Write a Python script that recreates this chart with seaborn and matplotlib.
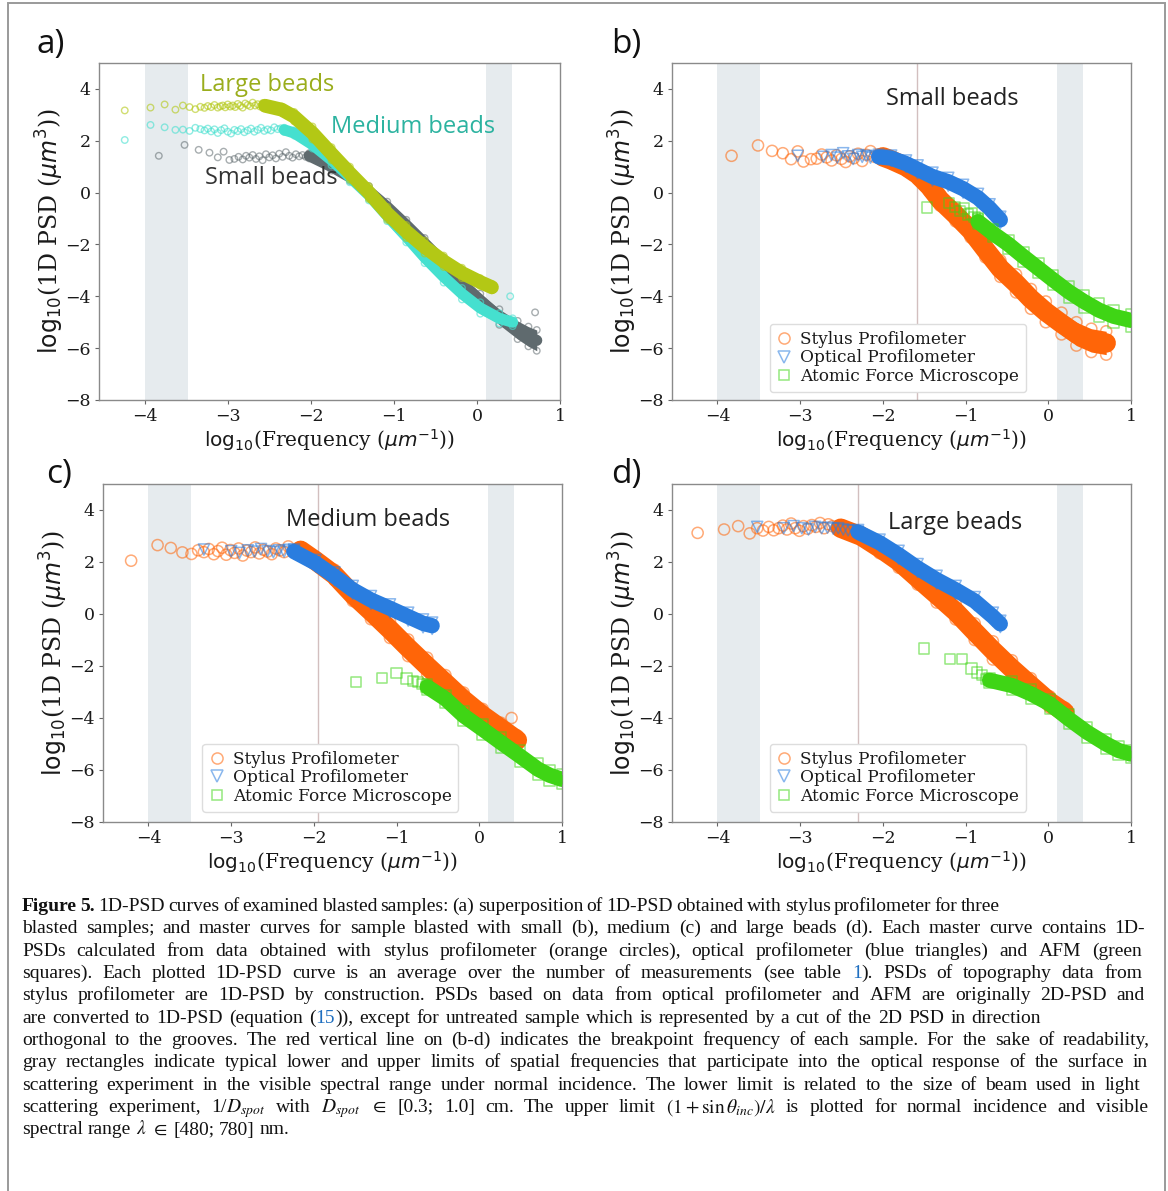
import numpy as np
import matplotlib
matplotlib.use("Agg")
import matplotlib.pyplot as plt
import seaborn as sns
from matplotlib.patches import Rectangle
from matplotlib.lines import Line2D
from matplotlib.transforms import IdentityTransform

# ---------------------------------------------------------------- data
XTICKS = [-4, -3, -2, -1, 0, 1]
YTICKS = [-8, -6, -4, -2, 0, 2, 4]
SPOT_LIMITS = [-4.0, -3.48]      # log10(1/D_spot)
LAMBDA_LIMITS = [0.11, 0.42]     # log10((1+sin)/lambda)
BREAKPOINTS = {"b": -1.59, "c": -1.95, "d": -2.30}
LEGEND_LABELS = ["Stylus Profilometer", "Optical Profilometer", "Atomic Force Microscope"]
PANEL_A_NAMES = ["Large beads", "Medium beads", "Small beads"]
PANEL_TITLES = {"b": "Small beads", "c": "Medium beads", "d": "Large beads"}

# panel a : stylus profilometer, three samples
a_large_sx = [-4.24, -3.93, -3.76, -3.63, -3.54, -3.46, -3.39, -3.33, -3.28, -3.24, -3.2, -3.16, -3.12, -3.09,
              -3.06, -3.03, -3.0, -2.97, -2.94, -2.91, -2.88, -2.85, -2.82, -2.79, -2.76, -2.73, -2.7, -2.67,
              -2.64, -2.61, -2.58, -2.55]
a_large_sy = [3.17, 3.28, 3.40, 3.20, 3.36, 3.30, 3.22, 3.31, 3.27, 3.34, 3.30, 3.38, 3.28, 3.33, 3.36, 3.29,
              3.40, 3.32, 3.36, 3.30, 3.42, 3.35, 3.28, 3.44, 3.38, 3.33, 3.47, 3.36, 3.41, 3.32, 3.45, 3.38]
a_large_bx = [-2.55, -2.35, -2.2, -1.98, -1.75, -1.53, -1.30, -1.08, -0.85, -0.63, -0.40, -0.18, 0.04, 0.18]
a_large_by = [3.35, 3.2, 2.93, 2.3, 1.5, 0.75, 0.0, -0.8, -1.5, -2.1, -2.65, -3.1, -3.45, -3.65]
a_large_bd = [0.08, 0.12, 0.18, 0.25, 0.25, 0.25, 0.25, 0.25, 0.25, 0.25, 0.22, 0.2, 0.15, 0.12]

a_med_sx = [-4.24, -3.93, -3.76, -3.63, -3.54, -3.46, -3.39, -3.33, -3.28, -3.24, -3.2, -3.16, -3.12, -3.08,
            -3.04, -3.0, -2.96, -2.92, -2.88, -2.84, -2.8, -2.76, -2.72, -2.68, -2.64, -2.6, -2.56, -2.52,
            -2.48, -2.44, -2.4, -2.36, -2.32, 0.40]
a_med_sy = [2.03, 2.61, 2.52, 2.42, 2.43, 2.38, 2.50, 2.45, 2.40, 2.47, 2.36, 2.44, 2.30, 2.41, 2.48, 2.35,
            2.28, 2.42, 2.37, 2.45, 2.33, 2.40, 2.47, 2.35, 2.42, 2.50, 2.38, 2.44, 2.40, 2.52, 2.45, 2.48,
            2.42, -4.0]
a_med_bx = [-2.32, -2.2, -1.98, -1.75, -1.53, -1.30, -1.08, -0.85, -0.63, -0.40, -0.18, 0.04, 0.27, 0.43]
a_med_by = [2.42, 2.3, 1.85, 1.25, 0.6, -0.1, -0.9, -1.7, -2.5, -3.25, -3.9, -4.45, -4.85, -5.0]
a_med_bd = [0.08, 0.1, 0.15, 0.2, 0.2, 0.2, 0.2, 0.22, 0.22, 0.22, 0.22, 0.22, 0.2, 0.15]

a_small_sx = [-3.83, -3.52, -3.35, -3.22, -3.12, -3.05, -2.98, -2.92, -2.87, -2.82, -2.78, -2.74, -2.7, -2.66,
              -2.62, -2.58, -2.54, -2.5, -2.46, -2.42, -2.38, -2.34, -2.3, -2.26, -2.22, -2.18, -2.14, -2.1,
              -2.06, -2.02, 0.70]
a_small_sy = [1.42, 1.84, 1.65, 1.54, 1.36, 1.58, 1.26, 1.30, 1.38, 1.28, 1.42, 1.35, 1.45, 1.30, 1.40, 1.25,
              1.48, 1.36, 1.44, 1.32, 1.50, 1.38, 1.56, 1.42, 1.35, 1.48, 1.40, 1.45, 1.38, 1.42, -4.62]
a_small_bx = [-2.02, -1.75, -1.53, -1.30, -1.08, -0.85, -0.63, -0.40, -0.18, 0.04, 0.27, 0.49, 0.62, 0.72]
a_small_by = [1.42, 1.0, 0.6, 0.05, -0.55, -1.25, -1.95, -2.7, -3.5, -4.15, -4.8, -5.3, -5.55, -5.7]
a_small_bd = [0.1, 0.15, 0.15, 0.2, 0.2, 0.2, 0.2, 0.2, 0.22, 0.25, 0.3, 0.35, 0.38, 0.4]

# panel b : small beads
b_sty_sx = [-3.83, -3.51, -3.34, -3.21, -3.11, -3.03, -2.96, -2.87, -2.80, -2.74, -2.68, -2.62, -2.56, -2.50,
            -2.45, -2.40, -2.35, -2.30, -2.25, -2.20, -2.15, -2.10, -2.05]
b_sty_sy = [1.42, 1.82, 1.61, 1.52, 1.29, 1.59, 1.20, 1.29, 1.31, 1.47, 1.36, 1.24, 1.44, 1.30, 1.18, 1.40,
            1.33, 1.50, 1.22, 1.46, 1.60, 1.38, 1.48]
b_sty_bx = [-2.0, -1.90, -1.72, -1.58, -1.44, -1.31, -1.12, -0.94, -0.76, -0.58, -0.39, -0.21, -0.03, 0.16,
            0.34, 0.52, 0.70]
b_sty_by = [1.38, 1.26, 1.0, 0.7, 0.25, -0.28, -0.86, -1.45, -2.2, -2.93, -3.5, -4.1, -4.6, -5.05, -5.45,
            -5.7, -5.8]
b_sty_bd = [0.1, 0.12, 0.15, 0.18, 0.2, 0.22, 0.25, 0.28, 0.3, 0.32, 0.35, 0.38, 0.4, 0.42, 0.45, 0.45, 0.45]

b_opt_sx = [-3.03, -2.72, -2.62, -2.55, -2.48, -2.42, -2.36, -2.30, -2.25, -2.20, -2.15, -2.10, -2.05]
b_opt_sy = [1.42, 1.38, 1.45, 1.35, 1.52, 1.40, 1.30, 1.45, 1.38, 1.42, 1.35, 1.40, 1.36]
b_opt_bx = [-2.05, -1.90, -1.72, -1.58, -1.40, -1.21, -1.03, -0.85, -0.71, -0.58]
b_opt_by = [1.38, 1.33, 1.12, 0.9, 0.62, 0.42, 0.15, -0.2, -0.6, -1.05]
b_opt_bd = [0.08, 0.1, 0.12, 0.15, 0.15, 0.15, 0.15, 0.15, 0.15, 0.12]

b_afm_sx = [-1.47, -1.20, -1.13, -1.07, -1.02, -0.97, -0.93, -0.89, -0.85]
b_afm_sy = [-0.57, -0.40, -0.55, -0.70, -0.62, -0.85, -0.80, -0.95, -1.0]
b_afm_bx = [-0.85, -0.67, -0.48, -0.30, -0.12, 0.06, 0.25, 0.43, 0.61, 0.79, 1.0]
b_afm_by = [-1.12, -1.57, -2.0, -2.47, -2.92, -3.37, -3.83, -4.2, -4.53, -4.77, -4.93]
b_afm_bd = [0.1, 0.15, 0.18, 0.18, 0.18, 0.2, 0.22, 0.25, 0.25, 0.25, 0.25]

# panel c : medium beads
c_sty_sx = [-4.21, -3.89, -3.73, -3.59, -3.48, -3.40, -3.33, -3.27, -3.21, -3.16, -3.11, -3.06, -3.01, -2.96,
            -2.91, -2.86, -2.81, -2.76, -2.71, -2.66, -2.61, -2.56, -2.51, -2.46, -2.41, -2.36, -2.31, -2.26,
            -2.21, -2.16, 0.39]
c_sty_sy = [2.05, 2.65, 2.54, 2.37, 2.31, 2.45, 2.38, 2.50, 2.30, 2.42, 2.55, 2.28, 2.46, 2.35, 2.52, 2.25,
            2.44, 2.38, 2.56, 2.33, 2.47, 2.40, 2.30, 2.52, 2.45, 2.38, 2.60, 2.42, 2.50, 2.55, -4.0]
c_sty_bx = [-2.16, -1.98, -1.75, -1.53, -1.31, -1.08, -0.86, -0.63, -0.41, -0.19, 0.04, 0.26, 0.46]
c_sty_by = [2.45, 2.05, 1.5, 0.75, 0.1, -0.6, -1.3, -2.0, -2.65, -3.3, -3.9, -4.4, -4.85]
c_sty_bd = [0.1, 0.15, 0.2, 0.25, 0.3, 0.32, 0.32, 0.32, 0.3, 0.28, 0.25, 0.22, 0.18]

c_opt_sx = [-3.33, -3.00, -2.90, -2.80, -2.72, -2.64, -2.56, -2.49, -2.42, -2.36, -2.30, -2.24]
c_opt_sy = [2.48, 2.42, 2.35, 2.45, 2.40, 2.50, 2.42, 2.38, 2.45, 2.40, 2.47, 2.43]
c_opt_bx = [-2.24, -1.98, -1.75, -1.53, -1.31, -1.08, -0.86, -0.68, -0.57]
c_opt_by = [2.4, 1.96, 1.45, 0.93, 0.54, 0.22, -0.1, -0.36, -0.45]
c_opt_bd = [0.08, 0.12, 0.15, 0.15, 0.15, 0.15, 0.15, 0.15, 0.12]

c_afm_sx = [-1.49, -1.18, -1.00, -0.88, -0.80, -0.74, -0.69, -0.64]
c_afm_sy = [-2.62, -2.45, -2.26, -2.48, -2.58, -2.62, -2.70, -2.80]
c_afm_bx = [-0.63, -0.41, -0.19, 0.04, 0.26, 0.49, 0.71, 0.85, 1.0]
c_afm_by = [-2.8, -3.26, -3.91, -4.43, -4.94, -5.46, -5.97, -6.2, -6.36]
c_afm_bd = [0.1, 0.15, 0.18, 0.2, 0.22, 0.22, 0.22, 0.2, 0.18]

# panel d : large beads
d_sty_sx = [-4.24, -3.92, -3.75, -3.61, -3.52, -3.45, -3.38, -3.32, -3.26, -3.21, -3.16, -3.11, -3.06, -3.01,
            -2.96, -2.91, -2.86, -2.81, -2.76, -2.71, -2.66, -2.61, -2.56, -2.51]
d_sty_sy = [3.12, 3.25, 3.38, 3.10, 3.30, 3.21, 3.35, 3.22, 3.30, 3.40, 3.25, 3.48, 3.30, 3.20, 3.38, 3.28,
            3.42, 3.35, 3.50, 3.30, 3.45, 3.38, 3.32, 3.40]
d_sty_bx = [-2.51, -2.26, -2.04, -1.81, -1.58, -1.35, -1.12, -0.89, -0.67, -0.44, -0.21, 0.02, 0.2]
d_sty_by = [3.3, 2.99, 2.54, 2.03, 1.38, 0.74, 0.09, -0.68, -1.4, -2.1, -2.75, -3.39, -3.78]
d_sty_bd = [0.1, 0.15, 0.2, 0.25, 0.25, 0.3, 0.3, 0.32, 0.35, 0.32, 0.28, 0.22, 0.18]

d_opt_sx = [-3.52, -3.20, -3.08, -2.98, -2.90, -2.82, -2.74, -2.67, -2.60, -2.54, -2.48, -2.42, -2.36, -2.30]
d_opt_sy = [3.35, 3.30, 3.38, 3.30, 3.25, 3.35, 3.30, 3.32, 3.28, 3.30, 3.25, 3.22, 3.20, 3.15]
d_opt_bx = [-2.30, -2.04, -1.81, -1.58, -1.35, -1.12, -0.89, -0.67, -0.58]
d_opt_by = [3.15, 2.74, 2.28, 1.77, 1.32, 0.93, 0.5, -0.1, -0.38]
d_opt_bd = [0.08, 0.12, 0.15, 0.15, 0.15, 0.15, 0.15, 0.15, 0.12]

d_afm_sx = [-1.50, -1.19, -1.04, -0.93, -0.86, -0.80, -0.75, -0.71]
d_afm_sy = [-1.33, -1.74, -1.72, -2.10, -2.25, -2.35, -2.50, -2.55]
d_afm_bx = [-0.71, -0.44, -0.21, 0.02, 0.25, 0.47, 0.70, 0.85, 1.0]
d_afm_by = [-2.55, -2.75, -3.07, -3.46, -4.04, -4.55, -5.0, -5.25, -5.39]
d_afm_bd = [0.1, 0.15, 0.18, 0.2, 0.2, 0.2, 0.2, 0.18, 0.15]

CAPTION = [
    "*Figure 5.* 1D-PSD curves of examined blasted samples: (a) superposition of 1D-PSD obtained with stylus profilometer for three",
    "blasted samples; and master curves for sample blasted with small (b), medium (c) and large beads (d). Each master curve contains 1D-",
    "PSDs calculated from data obtained with stylus profilometer (orange circles), optical profilometer (blue triangles) and AFM (green",
    "squares). Each plotted 1D-PSD curve is an average over the number of measurements (see table #1#). PSDs of topography data from",
    "stylus profilometer are 1D-PSD by construction. PSDs based on data from optical profilometer and AFM are originally 2D-PSD and",
    "are converted to 1D-PSD (equation (#15#)), except for untreated sample which is represented by a cut of the 2D PSD in direction",
    "orthogonal to the grooves. The red vertical line on (b-d) indicates the breakpoint frequency of each sample. For the sake of readability,",
    "gray rectangles indicate typical lower and upper limits of spatial frequencies that participate into the optical response of the surface in",
    "scattering experiment in the visible spectral range under normal incidence. The lower limit is related to the size of beam used in light",
    "scattering experiment, 1/$D_{spot}$ with $D_{spot}$ $\\in$ [0.3; 1.0] cm. The upper limit $(1+\\sin\\theta_{inc})/\\lambda$ is plotted for normal incidence and visible",
    "spectral range $\\lambda$ $\\in$ [480; 780] nm.",
]
CAPTION_RIGHT = [1000, 1145, 1142, 1142, 1145, 1041, 1150, 1148, 1140, 1148, None]

# ---------------------------------------------------------------- style
W, H = 1168, 1191
sns.set_theme(style="white")
plt.rcParams["font.family"] = ["DejaVu Serif"]
plt.rcParams["mathtext.fontset"] = "dejavusans"

ORANGE = "#ff6508"
BLUE = "#2a7ddf"
GREEN = "#3fd515"
YGREEN = "#b3c815"
TURQ = "#45e0cf"
GRAY = "#5f6a6e"
SPAN = "#e6ebee"
BRK = "#d2bfbf"

fig = plt.figure(figsize=(W / 100, H / 100), dpi=100)


def ax_at(l, t, r, b):
    return fig.add_axes([l / W, 1 - b / H, (r - l) / W, (b - t) / H])


def draw_series(ax, sx, sy, bx, by, bd, color, marker, s, elw, alpha, line_w, z):
    bx = np.asarray(bx, float)
    by = np.asarray(by, float)
    bd = np.asarray(bd, float)
    ax.fill_between(bx, by - bd, by + bd, color=color, lw=0, zorder=z)
    sns.lineplot(x=bx, y=by, ax=ax, color=color, lw=line_w, sort=False, estimator=None,
                 zorder=z, solid_capstyle="round", solid_joinstyle="round")
    # ragged edges of the dense cloud
    sns.scatterplot(x=np.r_[bx, bx], y=np.r_[by - bd, by + bd], ax=ax, marker=marker, s=s,
                    facecolors="none", edgecolor=color, linewidth=elw, alpha=alpha, zorder=z)
    sns.scatterplot(x=sx, y=sy, ax=ax, marker=marker, s=s, facecolors="none", edgecolor=color,
                    linewidth=elw, alpha=alpha, zorder=z)


def style_axes(ax):
    ax.set_xlim(-4.55, 1.0)
    ax.set_ylim(-8, 5)
    ax.set_xticks(XTICKS)
    ax.set_yticks(YTICKS)
    ax.tick_params(axis="both", which="both", direction="out", length=3, width=0.8,
                   color="#666666", labelsize=12.5, labelcolor="#1a1a1a", pad=3,
                   bottom=True, left=True)
    for sp in ax.spines.values():
        sp.set_color("#8a8a8a")
        sp.set_linewidth(1.0)
    ax.axvspan(SPOT_LIMITS[0], SPOT_LIMITS[1], color=SPAN, lw=0, zorder=0)
    ax.axvspan(LAMBDA_LIMITS[0], LAMBDA_LIMITS[1], color=SPAN, lw=0, zorder=0)
    ax.set_xlabel(r"$\mathrm{log}_{10}$(Frequency ($\mu m^{-1}$))", fontsize=14.5, color="#1a1a1a", labelpad=1)
    ax.set_ylabel(r"$\mathrm{log}_{10}$(1D PSD ($\mu m^3$))", fontsize=17, color="#1a1a1a", labelpad=-1)


SANS = ["Open Sans", "DejaVu Sans"]

# ---------------------------------------------------------------- panel a
axa = ax_at(99, 63, 560, 400)
style_axes(axa)
draw_series(axa, a_small_sx, a_small_sy, a_small_bx, a_small_by, a_small_bd, GRAY, "o", 22, 1.0, 0.55, 8, 2)
draw_series(axa, a_med_sx, a_med_sy, a_med_bx, a_med_by, a_med_bd, TURQ, "o", 22, 1.0, 0.6, 8, 3)
draw_series(axa, a_large_sx, a_large_sy, a_large_bx, a_large_by, a_large_bd, YGREEN, "o", 22, 1.0, 0.6, 10, 4)
axa.text(-2.53, 4.15, PANEL_A_NAMES[0], family=SANS, fontsize=17, color="#9aad1c", ha="center", va="center", zorder=6)
axa.text(-0.77, 2.52, PANEL_A_NAMES[1], family=SANS, fontsize=17, color="#2cb3a0", ha="center", va="center", zorder=6)
axa.text(-2.47, 0.58, PANEL_A_NAMES[2], family=SANS, fontsize=17, color="#333333", ha="center", va="center", zorder=6)

# ---------------------------------------------------------------- panels b-d
panels = {
    "b": dict(box=(672, 63, 1131, 400),
              sty=(b_sty_sx, b_sty_sy, b_sty_bx, b_sty_by, b_sty_bd),
              opt=(b_opt_sx, b_opt_sy, b_opt_bx, b_opt_by, b_opt_bd),
              afm=(b_afm_sx, b_afm_sy, b_afm_bx, b_afm_by, b_afm_bd),
              title_xy=(-1.16, 3.61), leg=(0.213, 0.024)),
    "c": dict(box=(103, 484, 562, 822),
              sty=(c_sty_sx, c_sty_sy, c_sty_bx, c_sty_by, c_sty_bd),
              opt=(c_opt_sx, c_opt_sy, c_opt_bx, c_opt_by, c_opt_bd),
              afm=(c_afm_sx, c_afm_sy, c_afm_bx, c_afm_by, c_afm_bd),
              title_xy=(-1.34, 3.61), leg=(0.216, 0.03)),
    "d": dict(box=(672, 484, 1131, 822),
              sty=(d_sty_sx, d_sty_sy, d_sty_bx, d_sty_by, d_sty_bd),
              opt=(d_opt_sx, d_opt_sy, d_opt_bx, d_opt_by, d_opt_bd),
              afm=(d_afm_sx, d_afm_sy, d_afm_bx, d_afm_by, d_afm_bd),
              title_xy=(-1.13, 3.5), leg=(0.213, 0.03)),
}

for key, p in panels.items():
    ax = ax_at(*p["box"])
    style_axes(ax)
    ax.axvline(BREAKPOINTS[key], color=BRK, lw=1.0, zorder=1)
    draw_series(ax, *p["sty"], ORANGE, "o", 64, 1.1, 0.55, 14, 2)
    draw_series(ax, *p["opt"], BLUE, "v", 64, 1.1, 0.55, 11, 3)
    draw_series(ax, *p["afm"], GREEN, "s", 56, 1.1, 0.55, 11, 4)
    ax.text(*p["title_xy"], PANEL_TITLES[key], family=SANS, fontsize=17, color="#222222",
            ha="center", va="center", zorder=6)
    handles = [
        Line2D([], [], ls="none", marker="o", mfc="none", mec=ORANGE, mew=1.1, ms=8, alpha=0.55),
        Line2D([], [], ls="none", marker="v", mfc="none", mec=BLUE, mew=1.1, ms=8, alpha=0.55),
        Line2D([], [], ls="none", marker="s", mfc="none", mec=GREEN, mew=1.1, ms=7.5, alpha=0.55),
    ]
    leg = ax.legend(handles, LEGEND_LABELS, loc="lower left", bbox_to_anchor=p["leg"], borderaxespad=0,
                    fontsize=12.2, frameon=True, fancybox=True, framealpha=1, edgecolor="#dddddd",
                    handlelength=0.9, handletextpad=0.5, labelspacing=0.1, borderpad=0.4)
    leg.set_zorder(10)
    for t in leg.get_texts():
        t.set_color("#1a1a1a")

# ---------------------------------------------------------------- panel labels
for lab, (px, py) in {"a)": (37, 45), "b)": (611, 45), "c)": (46, 475), "d)": (611, 475)}.items():
    fig.text(px / W, 1 - py / H, lab, family=SANS, fontsize=24, color="#111111", ha="left", va="center")

# ---------------------------------------------------------------- frame
fig.add_artist(Rectangle((8 / W, -0.02), (1165 - 8) / W, 1 - 3 / H + 0.02, transform=fig.transFigure,
                         fill=False, ec="#9a9a9a", lw=1.4))

# ---------------------------------------------------------------- caption
renderer = fig.canvas.get_renderer()
ident = IdentityTransform()
CAP_FS = 14.0
CAP_FONT = dict(family=["Liberation Serif", "DejaVu Serif"], fontsize=CAP_FS, math_fontfamily="stix")
X0 = 22
BASE0 = H - 911
STEP = 22.35


def parse_words(line, state):
    words = []
    for raw in line.split(" "):
        pieces = []
        buf = ""
        for ch in raw:
            if ch in "*#":
                if buf:
                    pieces.append((buf, dict(state)))
                    buf = ""
                key = "bold" if ch == "*" else "blue"
                state[key] = not state[key]
            else:
                buf += ch
        if buf:
            pieces.append((buf, dict(state)))
        if pieces:
            words.append(pieces)
    return words


state = {"bold": False, "blue": False}
space_px = 0.25 * CAP_FS * 100 / 72
for i, line in enumerate(CAPTION):
    words = parse_words(line, state)
    y = BASE0 - i * STEP
    made = []
    widths = []
    for pieces in words:
        arts = []
        wsum = 0.0
        for txt, st in pieces:
            t = fig.text(0, y, txt, transform=ident, ha="left", va="baseline",
                         color=("#1f6fc0" if st["blue"] else "#111111"),
                         fontweight=("bold" if st["bold"] else "normal"), **CAP_FONT)
            w = t.get_window_extent(renderer).width
            arts.append((t, w))
            wsum += w
        made.append(arts)
        widths.append(wsum)
    right = CAPTION_RIGHT[i]
    if right is not None and len(words) > 1:
        gap = (right - X0 - sum(widths)) / (len(words) - 1)
        gap = max(gap, 0.5 * space_px)
    else:
        gap = space_px
    x = X0
    for arts, wsum in zip(made, widths):
        xx = x
        for t, w in arts:
            t.set_x(xx)
            xx += w
        x += wsum + gap

fig.savefig("out.png", dpi=100)
